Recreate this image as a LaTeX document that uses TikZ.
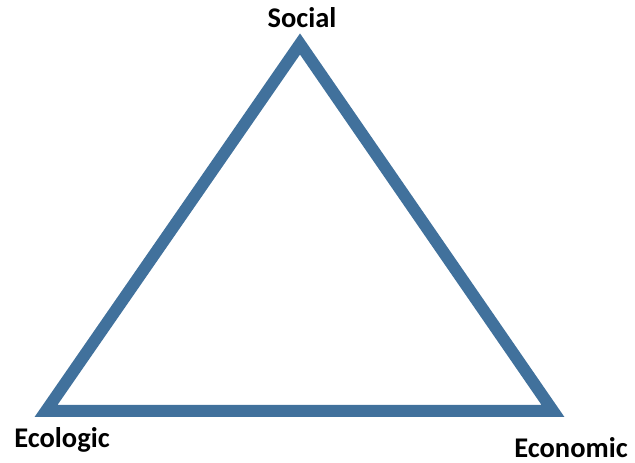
\documentclass[tikz,border=0pt]{standalone}
\usepackage{fontspec}
\setmainfont{Carlito}
\definecolor{sidecol}{RGB}{65,113,156}
\begin{document}
\begin{tikzpicture}[x=1pt,y=1pt,
    corner/.style={font=\fontsize{28.5}{34}\selectfont\bfseries,inner sep=0pt,anchor=base}]
        \useasboundingbox (0,0) rectangle (635,463);

        \coordinate (soc) at (300,419);
        \coordinate (eco) at (46,52);
        \coordinate (econ) at (553,52);

        \draw[line width=12pt,sidecol,line join=miter] (soc) -- (econ) -- (eco) -- cycle;

        \node[corner] (social) at (302,435) {Social};
        \node[corner] (ecologic) at (62,15) {Ecologic};
        \node[corner] (economic) at (571,5) {Economic};
    \end{tikzpicture}
\end{document}
